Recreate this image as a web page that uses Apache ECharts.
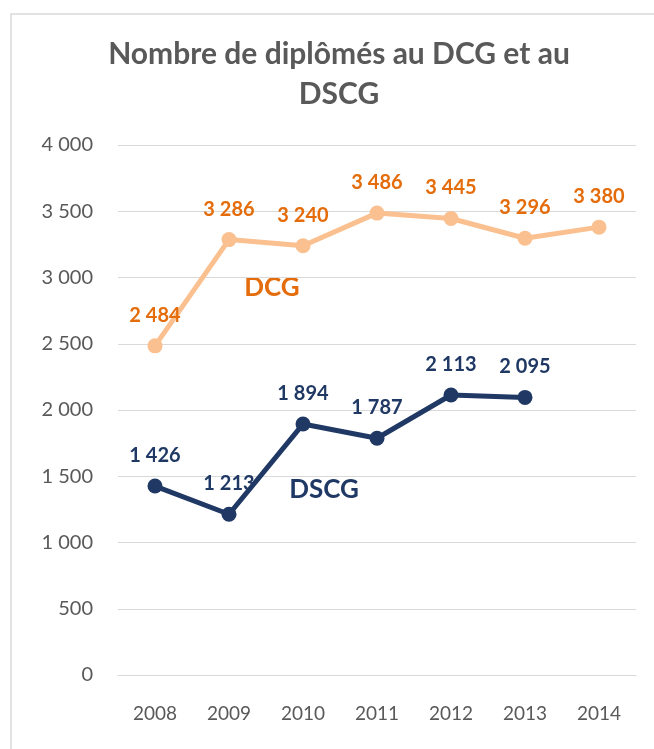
<!DOCTYPE html>
<html>
<head>
<meta charset="utf-8">
<script src="https://cdn.jsdelivr.net/npm/echarts@6/dist/echarts.min.js"></script>
<style>html,body{margin:0;padding:0;background:#fff}#c{width:654px;height:749px}</style>
</head>
<body>
<div id="c"></div>
<script>
const categories = ['2008', '2009', '2010', '2011', '2012', '2013', '2014'];
const dcgValues = [2484, 3286, 3240, 3486, 3445, 3296, 3380];
const dscgValues = [1426, 1213, 1894, 1787, 2113, 2095, null];
const yTicks = [0, 500, 1000, 1500, 2000, 2500, 3000, 3500, 4000];

const FONT = 'Lato';
const fmt = v => String(v).replace(/\B(?=(\d{3})+(?!\d))/g, ' ');

const chart = echarts.init(document.getElementById('c'), null, {renderer: 'canvas'});
chart.setOption({
  backgroundColor: '#ffffff',
  animation: false,
  title: {
    text: 'Nombre de diplômés au DCG et au\nDSCG',
    left: 339,
    textAlign: 'center',
    top: 34,
    padding: 0,
    textStyle: {fontFamily: FONT, fontSize: 30, fontWeight: 'bold', color: '#595959', lineHeight: 40}
  },
  graphic: [
    {type: 'rect', shape: {x: 11, y: 14, width: 700, height: 800}, style: {fill: 'none', stroke: '#d9d9d9', lineWidth: 1.5}, silent: true, z: -1},
    {type: 'text', x: 272, y: 288, style: {text: 'DCG', fontFamily: FONT, fontSize: 26, fontWeight: 'bold', fill: '#E46C0A', align: 'center', verticalAlign: 'middle'}},
    {type: 'text', x: 324, y: 490, style: {text: 'DSCG', fontFamily: FONT, fontSize: 26, fontWeight: 'bold', fill: '#1F3864', align: 'center', verticalAlign: 'middle'}}
  ],
  grid: {left: 118, right: 18, top: 145, bottom: 74},
  xAxis: {
    type: 'category',
    data: categories,
    boundaryGap: true,
    axisLine: {show: true, lineStyle: {color: '#d9d9d9', width: 1.2}},
    axisTick: {show: false},
    axisLabel: {fontFamily: FONT, fontSize: 19, color: '#595959', margin: 29}
  },
  yAxis: {
    type: 'value',
    min: yTicks[0],
    max: yTicks[yTicks.length - 1],
    interval: 500,
    axisLine: {show: false},
    axisTick: {show: false},
    splitLine: {lineStyle: {color: '#d9d9d9', width: 1.2}},
    axisLabel: {fontFamily: FONT, fontSize: 20, color: '#595959', margin: 25, formatter: v => fmt(v)}
  },
  series: [
    {
      name: 'DCG', type: 'line', data: dcgValues,
      symbol: 'circle', symbolSize: 15,
      lineStyle: {color: '#FAC090', width: 5},
      itemStyle: {color: '#FAC090'},
      label: {show: true, position: 'top', distance: 13, fontFamily: FONT, fontSize: 20, fontWeight: 'bold', color: '#E46C0A', formatter: p => fmt(p.value)}
    },
    {
      name: 'DSCG', type: 'line', data: dscgValues,
      symbol: 'circle', symbolSize: 15,
      lineStyle: {color: '#1F3864', width: 5},
      itemStyle: {color: '#1F3864'},
      label: {show: true, position: 'top', distance: 13, fontFamily: FONT, fontSize: 20, fontWeight: 'bold', color: '#1F3864', formatter: p => fmt(p.value)}
    }
  ]
});
</script>
</body>
</html>
